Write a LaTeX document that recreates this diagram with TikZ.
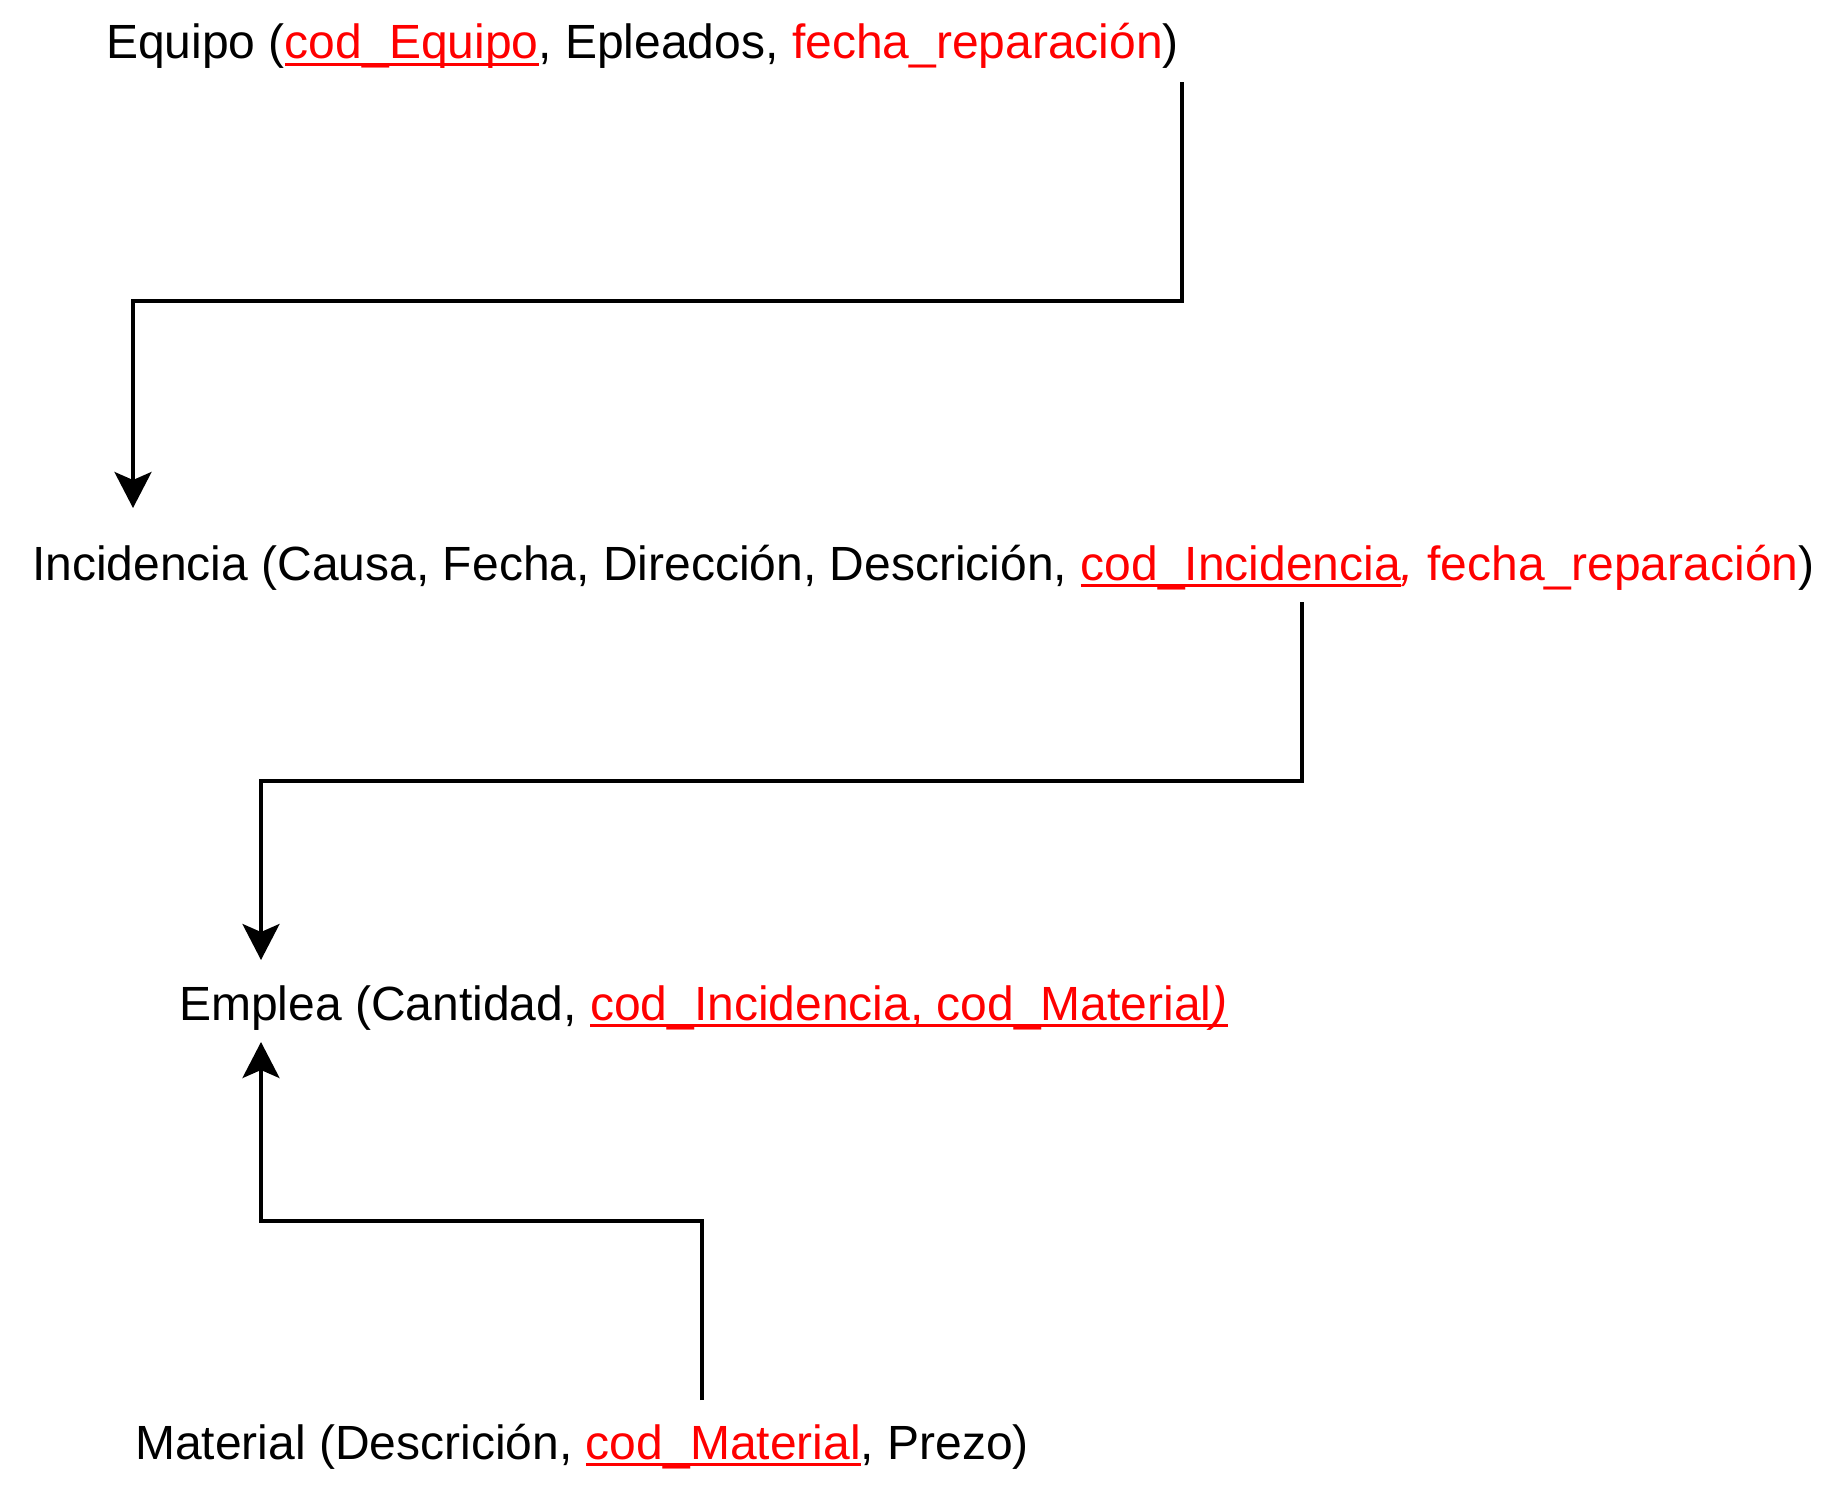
\documentclass[tikz,border=0pt]{standalone}
\usepackage{fontspec}
\setmainfont{Liberation Sans}
\usepackage{xcolor}
\usetikzlibrary{arrows.meta}
\definecolor{clave}{RGB}{255,0,0}
\newcommand{\pk}[1]{{\color{clave}\setbox0\hbox{#1}\rlap{\rule[-7pt]{\wd0}{3pt}}\box0}}
\newcommand{\fk}[1]{{\color{clave}#1}}

\begin{document}
\begin{tikzpicture}[x=1pt,y=-1pt,
        tabla/.style={anchor=base west,inner sep=0pt,font=\fontsize{48}{58}\selectfont},
        flecha/.style={line width=3.5pt,-{Stealth[length=36pt,width=37pt,inset=8pt]}}]
        \useasboundingbox (0,0) rectangle (1844,1488);

        % relaciones
        \node[tabla] (equipo) at (106,59) {Equipo (\pk{cod\_Equipo}, Epleados, \fk{fecha\_reparación})};
        \node[tabla] (incidencia) at (32,580) {Incidencia (Causa, Fecha, Dirección, Descrición, \pk{cod\_Incidencia}\fk{\textit{,} fecha\_reparación})};
        \node[tabla] (emplea) at (179,1020) {Emplea (Cantidad, \pk{cod\_Incidencia, cod\_Material\textit{)}}};
        \node[tabla] (material) at (135,1459) {Material (Descrición, \pk{cod\_Material}, Prezo)};

        % claves foraneas
        \draw[flecha] ([shift={(1076,23)}]equipo.base west) -- ++(0,219) -| ([shift={(101,-72)}]incidencia.base west);
        \draw[flecha] ([shift={(1270,22)}]incidencia.base west) -- ++(0,179) -| ([shift={(82,-60)}]emplea.base west);
        \draw[flecha] ([shift={(567,-59)}]material.base west) -- ++(0,-179) -| ([shift={(82,22)}]emplea.base west);
    \end{tikzpicture}
\end{document}
